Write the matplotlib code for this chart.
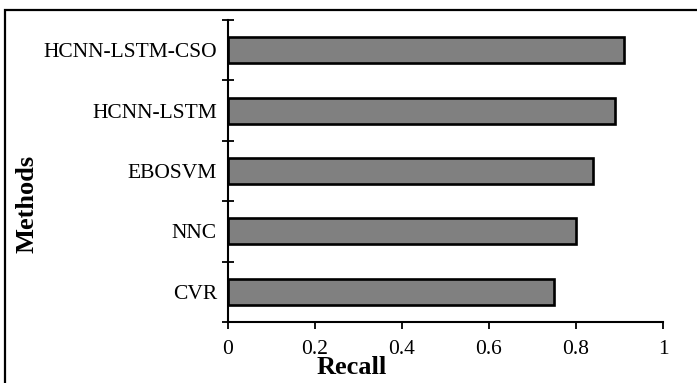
import matplotlib.pyplot as plt
from matplotlib.patches import Rectangle

methods = ["CVR", "NNC", "EBOSVM", "HCNN-LSTM", "HCNN-LSTM-CSO"]
recall = [0.75, 0.80, 0.84, 0.89, 0.91]
xticks = [0, 0.2, 0.4, 0.6, 0.8, 1]
xtick_labels = ["0", "0.2", "0.4", "0.6", "0.8", "1"]

plt.rcParams['font.family'] = ['Liberation Serif', 'DejaVu Serif']

fig = plt.figure(figsize=(6.97, 3.83), dpi=100)
ax = fig.add_axes([228 / 697, 1 - 322 / 383, 435 / 697, 302 / 383])

pos = range(len(methods))
ax.barh(pos, recall, height=0.43, color="#808080", edgecolor="black", linewidth=1.9)

ax.set_xlim(0, 1)
ax.set_ylim(-0.5, len(methods) - 0.5)
ax.set_xticks(xticks)
ax.set_xticklabels(xtick_labels, fontsize=15.5)
ax.set_yticks(list(pos))
ax.set_yticklabels(methods, fontsize=15.5)
ax.set_yticks([i - 0.5 for i in range(len(methods) + 1)], minor=True)

ax.tick_params(axis="y", which="major", length=0, pad=8)
ax.tick_params(axis="y", which="minor", direction="inout", length=8, width=1.3)
ax.tick_params(axis="x", direction="out", length=5, width=1.3, pad=8)

for s in ["top", "right"]:
    ax.spines[s].set_visible(False)
for s in ["left", "bottom"]:
    ax.spines[s].set_linewidth(1.5)

ax.set_xlabel("Recall", fontsize=19, fontweight="bold")
ax.xaxis.set_label_coords((352 - 228) / 435, (322 - 368) / 302)
ax.set_ylabel("Methods", fontsize=19, fontweight="bold")
ax.yaxis.set_label_coords((27 - 228) / 435, (322 - 204) / 302)
ax.xaxis.label.set_va("center")
ax.yaxis.label.set_va("center")

# outer frame around the figure (cut off at right and bottom)
fig.patches.append(Rectangle((5 / 697, -0.1), 1.2, 1.1 - 10 / 383,
                             transform=fig.transFigure, fill=False,
                             edgecolor="black", linewidth=1.6))

fig.savefig("out.png", dpi=100)
